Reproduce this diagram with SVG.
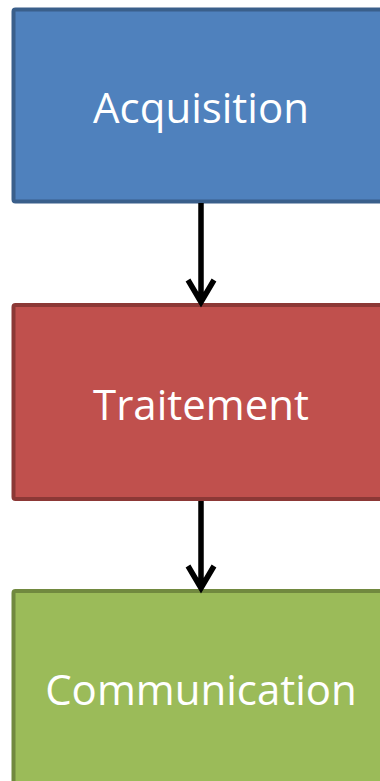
<svg xmlns="http://www.w3.org/2000/svg" width="380" height="781" viewBox="0 0 380 781">
<style>
.box{stroke-width:4}
.lbl{font-family:"Open Sans","Liberation Sans",sans-serif;font-size:42px;fill:#ffffff;text-anchor:middle}
.conn{stroke:#000;stroke-width:5.5;fill:none}
</style>
<rect width="380" height="781" fill="#ffffff"/>
<g id="acquisition">
<rect class="box" x="13.5" y="9.5" width="400" height="192" rx="2" fill="#4F81BD" stroke="#3A5F8B"/>
<text class="lbl" x="201" y="123">Acquisition</text>
</g>
<g id="traitement">
<rect class="box" x="13.5" y="305" width="400" height="194" rx="2" fill="#C0504D" stroke="#8C3836"/>
<text class="lbl" x="201" y="420">Traitement</text>
</g>
<g id="communication">
<rect class="box" x="13.5" y="591" width="400" height="220" rx="2" fill="#9BBB59" stroke="#71893F"/>
<text class="lbl" x="201" y="705">Communication</text>
</g>
<g id="connectors">
<path class="conn" d="M201 203 V303 M188 280 L201 302 L214 280"/>
<path class="conn" d="M201 501 V587 M188 566 L201 588 L214 566"/>
</g>
</svg>
